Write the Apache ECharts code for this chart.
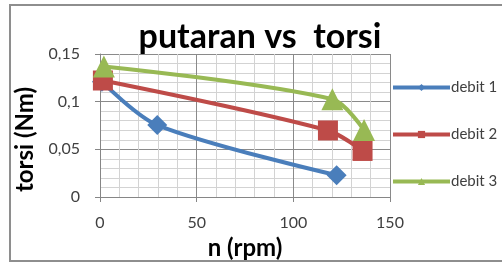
<!DOCTYPE html>
<html>
<head>
<meta charset="utf-8">
<script src="https://cdn.jsdelivr.net/npm/echarts@6/dist/echarts.min.js"></script>
<style>
  html, body { margin: 0; padding: 0; background: #fff; }
  #chart { width: 502px; height: 265px; }
</style>
</head>
<body>
<div id="chart"></div>
<script>
// data
var seriesNames = ['debit 1', 'debit 2', 'debit 3'];
var debit1 = [[1, 0.121], [29.6, 0.0755], [122.4, 0.0228]];
var debit2 = [[1.5, 0.1222], [117.9, 0.0698], [135.8, 0.0483]];
var debit3 = [[2, 0.137], [120.2, 0.1025], [136.6, 0.0702]];
var xTicks = [0, 50, 100, 150];
var yTicks = [0, 0.05, 0.1, 0.15];
var yTickLabels = ['0', '0,05', '0,1', '0,15'];

var colors = ['#4a7ebb', '#be4b48', '#98b954'];
var symbols = ['diamond', 'rect', 'triangle'];
var sizes = [20, 20, 22];
var allData = [debit1, debit2, debit3];

var myChart = echarts.init(document.getElementById('chart'));

var font = 'Lato, "Open Sans", sans-serif';

var option = {
	animation: false,
	color: colors,
	title: {
		text: 'putaran vs  torsi',
		left: 255,
		textAlign: 'center',
		top: 15,
		textStyle: { fontFamily: font, fontWeight: 'bold', fontSize: 34, color: '#000' }
	},
	graphic: [{
		type: 'rect',
		shape: { x: 10, y: 5, width: 520, height: 256 },
		style: { fill: null, stroke: '#8e8e8e', lineWidth: 2 },
		silent: true
	}],
	legend: {
		orient: 'vertical',
		left: 386,
		top: 75,
		itemWidth: 57,
		itemHeight: 9,
		itemGap: 32,
		data: seriesNames,
		lineStyle: { width: 4 },
		textStyle: { fontFamily: font, fontSize: 15, color: '#404040', padding: [0, 0, 0, -4] }
	},
	grid: {
		left: 100,
		right: 112,
		top: 54,
		bottom: 68
	},
	xAxis: {
		type: 'value',
		min: 0,
		max: 150,
		interval: 50,
		name: 'n (rpm)',
		nameLocation: 'middle',
		nameGap: 36,
		nameTextStyle: { fontFamily: font, fontWeight: 'bold', fontSize: 24, color: '#000' },
		axisLine: { show: true, lineStyle: { color: '#868686', width: 1 } },
		axisTick: { show: true, length: 5, lineStyle: { color: '#868686' } },
		axisLabel: {
			margin: 18, fontFamily: font, fontSize: 16, color: '#404040',
			formatter: function(v) { return xTicks.indexOf(v) >= 0 ? String(v) : ''; }
		},
		splitLine: { show: true, lineStyle: { color: '#8a8a8a', width: 1 } },
		minorTick: { show: false, splitNumber: 5 },
		minorSplitLine: { show: true, lineStyle: { color: '#d3d3d3', width: 1 } }
	},
	yAxis: {
		type: 'value',
		min: 0,
		max: 0.15,
		interval: 0.05,
		name: 'torsi (Nm)',
		nameLocation: 'middle',
		nameGap: 56,
		nameTextStyle: { fontFamily: font, fontWeight: 'bold', fontSize: 24, color: '#000', padding: [0, 28, 0, 0] },
		axisLine: { show: true, lineStyle: { color: '#868686', width: 1 } },
		axisTick: { show: true, length: 5, lineStyle: { color: '#868686' } },
		axisLabel: {
			margin: 20, fontFamily: font, fontSize: 16, color: '#404040',
			formatter: function(v) {
				for (var i = 0; i < yTicks.length; i++) {
					if (Math.abs(yTicks[i] - v) < 1e-9) return yTickLabels[i];
				}
				return '';
			}
		},
		splitLine: { show: true, lineStyle: { color: '#8a8a8a', width: 1 } },
		minorTick: { show: false, splitNumber: 5 },
		minorSplitLine: { show: true, lineStyle: { color: '#d3d3d3', width: 1 } }
	},
	series: seriesNames.map(function(name, i) {
		return {
			name: name,
			type: 'line',
			smooth: 0.3,
			data: allData[i],
			symbol: symbols[i],
			symbolSize: sizes[i],
			showAllSymbol: true,
			lineStyle: { width: 4, color: colors[i] },
			itemStyle: { color: colors[i] },
			z: 2 + i
		};
	})
};
myChart.setOption(option);
</script>
</body>
</html>
